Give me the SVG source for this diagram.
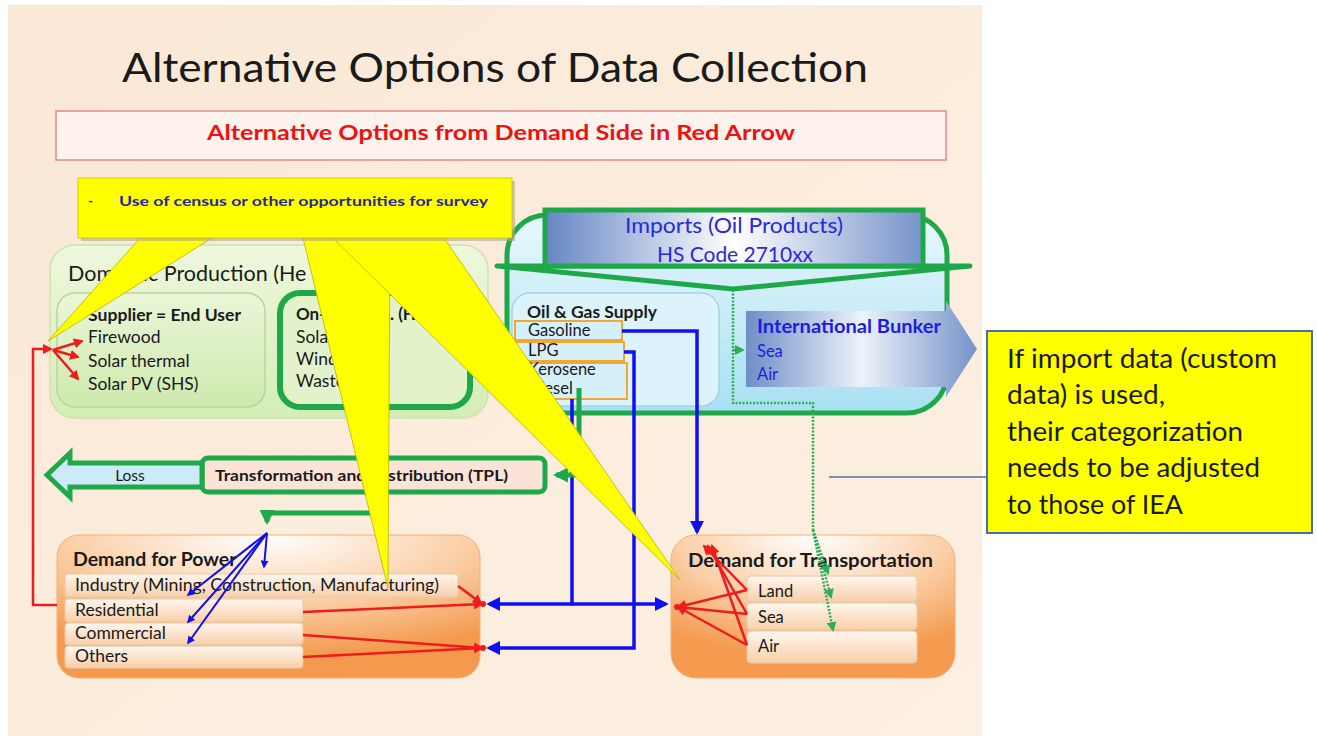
<svg xmlns="http://www.w3.org/2000/svg" width="1317" height="736" viewBox="0 0 1317 736">
<defs>
<style>
.t{font-family:Lato,"Open Sans","Liberation Sans",sans-serif;fill:#1a1a1a}
.b{font-weight:bold}
.wedge{fill:#ffff00;stroke:#b8b200;stroke-width:0.8}
.red{stroke:#ee1c1c;stroke-width:2.5;fill:none}
.blue{stroke:#1010ee;stroke-width:3.5;fill:none}
.gr{stroke:#1fa84a;stroke-width:5;fill:none}
.dot{stroke:#2fae55;stroke-width:2.5;fill:none;stroke-dasharray:2 1.5}
.row{fill:url(#rowG);stroke:#e8c8a8;stroke-width:1}
.ob{stroke:#f0a830;stroke-width:2;fill:#d6f0f9}
</style>
<linearGradient id="bg" x1="0" y1="0" x2="1" y2="1"><stop offset="0" stop-color="#fbe8d6"/><stop offset="1" stop-color="#fcf0e2"/></linearGradient>
<linearGradient id="dpG" x1="0" y1="0" x2="0" y2="1"><stop offset="0" stop-color="#eef8dc"/><stop offset="1" stop-color="#d4edb6"/></linearGradient>
<linearGradient id="supG" x1="0" y1="0" x2="0" y2="1"><stop offset="0" stop-color="#eaf7d8"/><stop offset="1" stop-color="#cfe9ae"/></linearGradient>
<linearGradient id="impC" x1="0" y1="0" x2="0" y2="1"><stop offset="0" stop-color="#e8f8fd"/><stop offset="1" stop-color="#a8e0f2"/></linearGradient>
<linearGradient id="banG" x1="0" y1="0" x2="1" y2="0"><stop offset="0" stop-color="#6586c4"/><stop offset="0.5" stop-color="#ffffff"/><stop offset="1" stop-color="#7793ca"/></linearGradient>
<linearGradient id="bunG" x1="0" y1="0" x2="1" y2="0"><stop offset="0" stop-color="#6e8ec6"/><stop offset="0.5" stop-color="#eef2fa"/><stop offset="1" stop-color="#7693c9"/></linearGradient>
<radialGradient id="orG" cx="0.5" cy="0" r="0.85"><stop offset="0" stop-color="#ffffff"/><stop offset="0.55" stop-color="#fbd0a8"/><stop offset="1" stop-color="#f39a4e"/></radialGradient>
<linearGradient id="rowG" x1="0" y1="0" x2="0" y2="1"><stop offset="0" stop-color="#fff6ee"/><stop offset="1" stop-color="#f8cfa8"/></linearGradient>
<marker id="ar" viewBox="0 0 10 10" refX="8" refY="5" markerWidth="4" markerHeight="4" orient="auto"><path d="M0,0 L10,5 L0,10 z" fill="#ee1c1c"/></marker>
<marker id="ab" viewBox="0 0 10 10" refX="8" refY="5" markerWidth="4" markerHeight="4" orient="auto"><path d="M0,0 L10,5 L0,10 z" fill="#1010ee"/></marker>
<marker id="ag" viewBox="0 0 10 10" refX="8" refY="5" markerWidth="3" markerHeight="3" orient="auto"><path d="M0,0 L10,5 L0,10 z" fill="#1fa84a"/></marker>
<marker id="ad" viewBox="0 0 10 10" refX="8" refY="5" markerWidth="4" markerHeight="4" orient="auto"><path d="M0,0 L10,5 L0,10 z" fill="#2fae55"/></marker>
</defs>

<rect x="0" y="0" width="1317" height="736" fill="#ffffff"/>
<rect x="8" y="5" width="974" height="731" fill="url(#bg)"/>

<text class="t" x="122" y="82" font-size="41" textLength="746" lengthAdjust="spacingAndGlyphs">Alternative Options of Data Collection</text>

<g id="subtitle">
<rect x="56" y="111" width="890" height="49" fill="#fdf2ec" stroke="#e08a8a" stroke-width="1.5"/>
<text class="t b" x="207" y="140" font-size="21" style="fill:#ee1111" textLength="588" lengthAdjust="spacingAndGlyphs">Alternative Options from Demand Side in Red Arrow</text>
</g>

<g id="domestic-production">
<rect x="50" y="245" width="438" height="173" rx="25" fill="url(#dpG)" stroke="#cde2b0" stroke-width="1.5"/>
<text class="t" x="68" y="281" font-size="21.5">Domestic Production (He</text>
</g>
<g id="supplier-end-user">
<rect x="57" y="293" width="208" height="114" rx="18" fill="url(#supG)" stroke="#b9d59c" stroke-width="1.5"/>
<text class="t b" x="88" y="321" font-size="17" textLength="153" lengthAdjust="spacingAndGlyphs">Supplier = End User</text>
<text class="t" x="88" y="343" font-size="17.5">Firewood</text>
<text class="t" x="88" y="367" font-size="17.5">Solar thermal</text>
<text class="t" x="88" y="390" font-size="17.5">Solar PV (SHS)</text>
</g>
<g id="on-grid">
<rect x="280" y="293" width="190" height="114" rx="20" fill="#e2f3cb" stroke="#1fa84a" stroke-width="6"/>
<text class="t b" x="296" y="320" font-size="17">On-site Gen<tspan x="390">. (Heat)</tspan></text>
<text class="t" x="296" y="343" font-size="17.5">Solar</text>
<text class="t" x="296" y="365" font-size="17.5">Wind</text>
<text class="t" x="296" y="387" font-size="17.5">Waste</text>
</g>

<g id="imports-container">
<rect x="507" y="215" width="440" height="198" rx="40" fill="url(#impC)" stroke="#1fa84a" stroke-width="5"/>
</g>
<g id="oil-gas-supply">
<rect x="512" y="293" width="207" height="113" rx="18" fill="#dcf3fb" stroke="#a6d4e6" stroke-width="1.5"/>
<text class="t b" x="527" y="318" font-size="17" textLength="130" lengthAdjust="spacingAndGlyphs">Oil &amp; Gas Supply</text>
<rect class="ob" x="515" y="321" width="107" height="19"/>
<rect class="ob" x="515" y="342" width="109" height="19"/>
<rect class="ob" x="515" y="363" width="112" height="36"/>
<text class="t" x="528" y="336" font-size="16.5">Gasoline</text>
<text class="t" x="528" y="356" font-size="16.5">LPG</text>
<text class="t" x="528" y="375" font-size="16.5">Kerosene</text>
<text class="t" x="528" y="394" font-size="16.5">Diesel</text>
</g>
<g id="imports-banner">
<polygon points="497,266 970,266 733,289" fill="#d4eff9" stroke="#1fa84a" stroke-width="5" stroke-linejoin="round"/>
<rect x="545" y="210" width="378" height="56" fill="url(#banG)" stroke="#1fa84a" stroke-width="5"/>
<text class="t" x="625" y="233" font-size="21" style="fill:#2a2ad6" textLength="218" lengthAdjust="spacingAndGlyphs">Imports (Oil Products)</text>
<text class="t" x="657" y="262" font-size="21" style="fill:#2a2ad6" textLength="156" lengthAdjust="spacingAndGlyphs">HS Code 2710xx</text>
</g>
<g id="international-bunker">
<polygon points="746,311 946,311 946,301 977,349 946,397 946,387 746,387" fill="url(#bunG)"/>
<text class="t b" x="757" y="333" font-size="18.5" style="fill:#1d1de0" textLength="184" lengthAdjust="spacingAndGlyphs">International Bunker</text>
<text class="t" x="757" y="357" font-size="16.5" style="fill:#1d1de0">Sea</text>
<text class="t" x="757" y="380" font-size="16.5" style="fill:#1d1de0">Air</text>
</g>

<g id="tpl">
<rect x="202" y="458" width="343" height="34" rx="6" fill="#fbe4d7" stroke="#1fa84a" stroke-width="5"/>
<text class="t b" x="215" y="481" font-size="15.5" textLength="293" lengthAdjust="spacingAndGlyphs">Transformation and Distribution (TPL)</text>
</g>
<g id="loss">
<polygon points="47,475 70,453 70,463 202,463 202,487 70,487 70,497" fill="#cdeaf8" stroke="#1fa84a" stroke-width="5" stroke-linejoin="miter"/>
<text class="t" x="130" y="481" font-size="15.5" text-anchor="middle">Loss</text>
</g>

<g id="demand-power">
<rect x="57" y="535" width="423" height="143" rx="22" fill="url(#orG)" stroke="#f2b078" stroke-width="1"/>
<text class="t b" x="73" y="566" font-size="19.5">Demand for Power</text>
<rect class="row" x="65" y="574" width="393" height="23" rx="3"/>
<rect class="row" x="65" y="599" width="238" height="23" rx="3"/>
<rect class="row" x="65" y="623" width="238" height="22" rx="3"/>
<rect class="row" x="65" y="646" width="238" height="22" rx="3"/>
<text class="t" x="75" y="591" font-size="16.5" textLength="364" lengthAdjust="spacingAndGlyphs">Industry (Mining, Construction, Manufacturing)</text>
<text class="t" x="75" y="616" font-size="17.5">Residential</text>
<text class="t" x="75" y="639" font-size="17.5">Commercial</text>
<text class="t" x="75" y="662" font-size="17.5">Others</text>
</g>

<g id="demand-transportation">
<rect x="671" y="535" width="284" height="143" rx="25" fill="url(#orG)" stroke="#f2b078" stroke-width="1"/>
<text class="t b" x="688" y="567" font-size="19" textLength="245" lengthAdjust="spacingAndGlyphs">Demand for Transportation</text>
<rect class="row" x="747" y="576" width="170" height="26" rx="4"/>
<rect class="row" x="747" y="603" width="170" height="27" rx="4"/>
<rect class="row" x="747" y="631" width="170" height="32" rx="4"/>
<text class="t" x="758" y="597" font-size="16.5">Land</text>
<text class="t" x="758" y="623" font-size="16.5">Sea</text>
<text class="t" x="758" y="652" font-size="16.5">Air</text>
</g>

<g id="connectors">
<path class="red" d="M57,605 H33 V349 H51" marker-end="url(#ar)"/>
<path class="red" d="M53,350 L82,341" marker-end="url(#ar)"/>
<path class="red" d="M53,350 L78,357" marker-end="url(#ar)"/>
<path class="red" d="M53,350 L78,379" marker-end="url(#ar)"/>
<path class="red" d="M458,586 L481,603" marker-end="url(#ar)"/>
<path class="red" d="M303,612 L482,604" marker-end="url(#ar)"/>
<path class="red" d="M303,635 L482,648" marker-end="url(#ar)"/>
<path class="red" d="M303,657 L482,648" marker-end="url(#ar)"/>
<path class="red" d="M747,590 L678,607" marker-end="url(#ar)"/>
<path class="red" d="M747,614 L678,607" marker-end="url(#ar)"/>
<path class="red" d="M747,645 L678,607" marker-end="url(#ar)"/>
<path class="red" d="M747,590 L704,546" marker-end="url(#ar)"/>
<path class="red" d="M747,614 L708,546" marker-end="url(#ar)"/>
<path class="red" d="M747,645 L712,546" marker-end="url(#ar)"/>
<circle cx="483" cy="604" r="3" fill="#ee1c1c"/>
<circle cx="483" cy="648" r="3" fill="#ee1c1c"/>
<circle cx="677" cy="607" r="3" fill="#ee1c1c"/>
<path class="blue" d="M622,331 H697 V532" marker-end="url(#ab)"/>
<path class="blue" d="M624,352 H634 V648 H489" marker-end="url(#ab)"/>
<path class="blue" d="M572,399 V604 H489" marker-end="url(#ab)"/>
<path class="blue" d="M572,604 H666" marker-end="url(#ab)"/>
<path d="M267,533 L264,567" stroke="#1010ee" stroke-width="2" fill="none" marker-end="url(#ab)"/>
<path d="M267,533 L188,595" stroke="#1010ee" stroke-width="2" fill="none" marker-end="url(#ab)"/>
<path d="M267,533 L188,622" stroke="#1010ee" stroke-width="2" fill="none" marker-end="url(#ab)"/>
<path d="M267,533 L188,643" stroke="#1010ee" stroke-width="2" fill="none" marker-end="url(#ab)"/>
<path class="gr" d="M579,388 V475 H556" marker-end="url(#ag)"/>
<path class="gr" d="M378,492 V513 H267 V522" marker-end="url(#ag)"/>
<path class="dot" d="M733,290 V403 H813 V530"/>
<path class="dot" d="M733,350 H743" marker-end="url(#ad)"/>
<path class="dot" d="M813,530 L828,573" marker-end="url(#ad)"/>
<path class="dot" d="M813,530 L831,597" marker-end="url(#ad)"/>
<path class="dot" d="M813,530 L833,630" marker-end="url(#ad)"/>
<line x1="829" y1="477" x2="987" y2="477" stroke="#4a6fa5" stroke-width="1.5"/>
</g>

<g id="callout">
<polygon class="wedge" points="140,238 212,238 48,341"/>
<polygon class="wedge" points="303,238 390,238 388,588"/>
<polygon class="wedge" points="333,238 444,238 680,580"/>
<rect x="81" y="181" width="434" height="60" fill="#b0a890" opacity="0.6"/>
<rect x="78" y="178" width="434" height="60" fill="#ffff00" stroke="#c8c000" stroke-width="0.8"/>
<text class="t b" x="88" y="206" font-size="14" style="fill:#28289a">-</text>
<text class="t b" x="119" y="206" font-size="14" style="fill:#28289a" textLength="369" lengthAdjust="spacingAndGlyphs">Use of census or other opportunities  for survey</text>
</g>

<g id="note">
<rect x="987" y="331" width="325" height="202" fill="#ffff00" stroke="#4a6fa5" stroke-width="2"/>
<text class="t" x="1007" y="368" font-size="26.5" textLength="270" lengthAdjust="spacingAndGlyphs">If import data (custom</text>
<text class="t" x="1007" y="404" font-size="26.5" textLength="158" lengthAdjust="spacingAndGlyphs">data) is used,</text>
<text class="t" x="1007" y="441" font-size="26.5" textLength="236" lengthAdjust="spacingAndGlyphs">their categorization</text>
<text class="t" x="1007" y="477" font-size="26.5" textLength="253" lengthAdjust="spacingAndGlyphs">needs to be adjusted</text>
<text class="t" x="1007" y="514" font-size="26.5" textLength="176" lengthAdjust="spacingAndGlyphs">to those of IEA</text>
</g>
</svg>
